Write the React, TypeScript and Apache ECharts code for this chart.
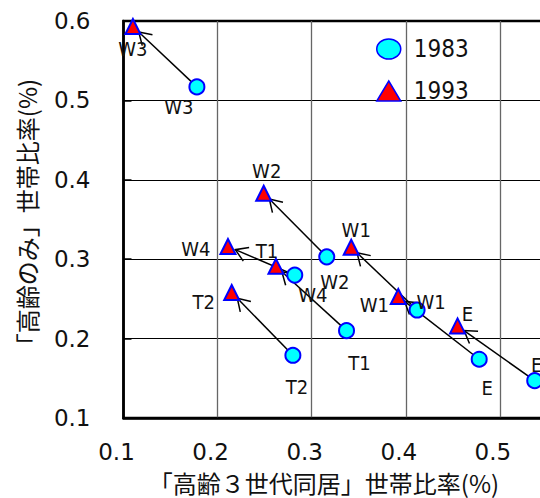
import React, { useEffect, useRef } from 'react';
import * as echarts from 'echarts';

// 1983 points
const names1983 = ['W3', 'W2', 'W4', 'T1', 'T2', 'W1', 'E', 'E'];
const x1983 = [0.178, 0.316, 0.282, 0.337, 0.280, 0.412, 0.478, 0.537];
const y1983 = [0.517, 0.303, 0.280, 0.210, 0.179, 0.236, 0.174, 0.147];
// 1993 points (same order: arrow i goes from 1983[i] to 1993[i])
const names1993 = ['W3', 'W2', 'W4', 'T1', 'T2', 'W1', 'W1', 'E'];
const x1993 = [0.110, 0.249, 0.211, 0.262, 0.215, 0.342, 0.392, 0.455];
const y1993 = [0.593, 0.383, 0.316, 0.291, 0.258, 0.315, 0.253, 0.216];

const seriesNames = ['1983', '1993'];
const xTicks = [0.1, 0.2, 0.3, 0.4, 0.5, 0.6];
const yTicks = [0.1, 0.2, 0.3, 0.4, 0.5, 0.6];
const xTitle = '「高齢３世代同居」世帯比率(%)';
const yTitle = '「高齢のみ」世帯比率(%)';

// label placement (px offsets from marker centre)
const labelOffsets1983 = [[-18, 20], [8, 25], [18, 20], [13, 32], [4, 32], [14, -8], [8, 29], [2, -16]];
const labelOffsets1993 = [[0, 22], [3, -22], [-32, 3], [-9, -15], [-28, 9], [5, -17], [-24, 8], [10, -12]];

const NARROW = "'Liberation Sans Narrow', 'DejaVu Sans Condensed', sans-serif";
const CJK = "'Noto Sans CJK JP', sans-serif";

export default function App() {
  const ref = useRef<HTMLDivElement>(null);
  useEffect(() => {
    if (!ref.current) return;
    const chart = echarts.init(ref.current, undefined, { renderer: 'svg' });
    const labelStyle = {
      show: true,
      position: 'inside',
      color: '#111',
      fontFamily: NARROW,
      fontSize: 20,
      textBorderWidth: 0,
      formatter: (p: any) => p.name,
    };
    const d1983 = x1983.map((x, i) => ({
      name: names1983[i],
      value: [x, y1983[i]],
      label: { offset: labelOffsets1983[i] },
    }));
    const d1993 = x1993.map((x, i) => ({
      name: names1993[i],
      value: [x, y1993[i]],
      label: { offset: labelOffsets1993[i] },
    }));
    const arrows = x1983.map((x, i) => [x, y1983[i], x1993[i], y1993[i]]);
    const ellipsePath = 'path://M0,10 A12,10 0 1,1 24,10 A12,10 0 1,1 0,10 Z';

    chart.setOption({
      animation: false,
      backgroundColor: '#fff',
      grid: {
        left: 123.5,
        top: 21,
        width: 470.5,
        height: 397,
        outerBoundsMode: 'none',
        containLabel: false,
        show: true,
        borderColor: '#000',
        borderWidth: 2.5,
      },
      legend: {
        orient: 'vertical',
        left: 376,
        top: 37,
        padding: 0,
        itemWidth: 24,
        itemHeight: 20,
        itemGap: 18,
        textStyle: {
          fontFamily: NARROW,
          fontSize: 24,
          lineHeight: 20,
          color: '#111',
          padding: [0, 0, 0, 8],
        },
        data: [
          {
            name: seriesNames[0],
            icon: ellipsePath,
            itemStyle: { color: '#00ffff', borderColor: '#0000ff', borderWidth: 1.5 },
          },
          {
            name: seriesNames[1],
            icon: 'triangle',
            itemStyle: { color: '#ff0000', borderColor: '#0000ff', borderWidth: 1.5 },
          },
        ],
      },
      xAxis: {
        type: 'value',
        min: xTicks[0],
        max: xTicks[xTicks.length - 1],
        interval: 0.1,
        axisLine: { show: true, lineStyle: { color: '#000', width: 2.5 } },
        axisTick: { show: false },
        axisLabel: {
          color: '#111',
          fontFamily: "'DejaVu Sans', sans-serif",
          fontSize: 23,
          margin: 22,
          padding: [0, 14, 0, 0],
          showMaxLabel: false,
          formatter: (v: number) => v.toFixed(1),
        },
        splitLine: { show: true, lineStyle: { color: '#666', width: 1.3 } },
      },
      yAxis: {
        type: 'value',
        min: yTicks[0],
        max: yTicks[yTicks.length - 1],
        interval: 0.1,
        axisLine: { show: true, lineStyle: { color: '#000', width: 2.5 } },
        axisTick: { show: true, inside: true, length: 8, lineStyle: { color: '#000', width: 1.5 } },
        axisLabel: {
          color: '#111',
          fontFamily: "'DejaVu Sans', sans-serif",
          fontSize: 23,
          margin: 33,
          formatter: (v: number) => v.toFixed(1),
        },
        splitLine: { show: true, lineStyle: { color: '#000', width: 1 } },
      },
      graphic: [
        {
          type: 'text',
          x: 324,
          y: 482,
          style: {
            text: xTitle,
            fontFamily: CJK,
            fontSize: 24,
            fill: '#111',
            align: 'center',
            verticalAlign: 'middle',
          },
        },
        {
          type: 'text',
          x: 26,
          y: 218,
          rotation: Math.PI / 2,
          style: {
            text: yTitle,
            fontFamily: CJK,
            fontSize: 24,
            fill: '#111',
            align: 'center',
            verticalAlign: 'middle',
          },
        },
      ],
      series: [
        {
          type: 'custom',
          name: 'arrows',
          z: 1,
          clip: false,
          encode: { x: [0, 2], y: [1, 3] },
          data: arrows,
          renderItem: (params: any, api: any) => {
            const p0 = api.coord([api.value(0), api.value(1)]);
            const p1 = api.coord([api.value(2), api.value(3)]);
            const dx = p1[0] - p0[0];
            const dy = p1[1] - p0[1];
            const len = Math.hypot(dx, dy);
            const ux = dx / len;
            const uy = dy / len;
            const tip = [p1[0] - ux * 8, p1[1] - uy * 8];
            const ang = Math.atan2(-uy, -ux);
            const a = (32 * Math.PI) / 180;
            const L = 14;
            const b1 = [tip[0] + L * Math.cos(ang + a), tip[1] + L * Math.sin(ang + a)];
            const b2 = [tip[0] + L * Math.cos(ang - a), tip[1] + L * Math.sin(ang - a)];
            return {
              type: 'group',
              children: [
                {
                  type: 'line',
                  shape: { x1: p0[0], y1: p0[1], x2: tip[0], y2: tip[1] },
                  style: { stroke: '#000', lineWidth: 1.5 },
                },
                {
                  type: 'polyline',
                  shape: { points: [b1, tip, b2] },
                  style: { stroke: '#000', fill: null, lineWidth: 1.5 },
                },
              ],
            };
          },
        },
        {
          type: 'scatter',
          name: seriesNames[0],
          z: 3,
          symbol: 'circle',
          symbolSize: 15,
          itemStyle: { color: '#00ffff', borderColor: '#0000ff', borderWidth: 2, opacity: 1 },
          label: labelStyle,
          data: d1983,
        },
        {
          type: 'scatter',
          name: seriesNames[1],
          z: 3,
          symbol: 'triangle',
          symbolSize: 15,
          itemStyle: { color: '#ff0000', borderColor: '#0000ff', borderWidth: 2, opacity: 1 },
          label: labelStyle,
          data: d1993,
        },
      ],
    });
    return () => chart.dispose();
  }, []);
  return (
    <div
      ref={ref}
      style={{ position: 'fixed', left: 0, top: 0, width: 540, height: 498 }}
    />
  );
}
